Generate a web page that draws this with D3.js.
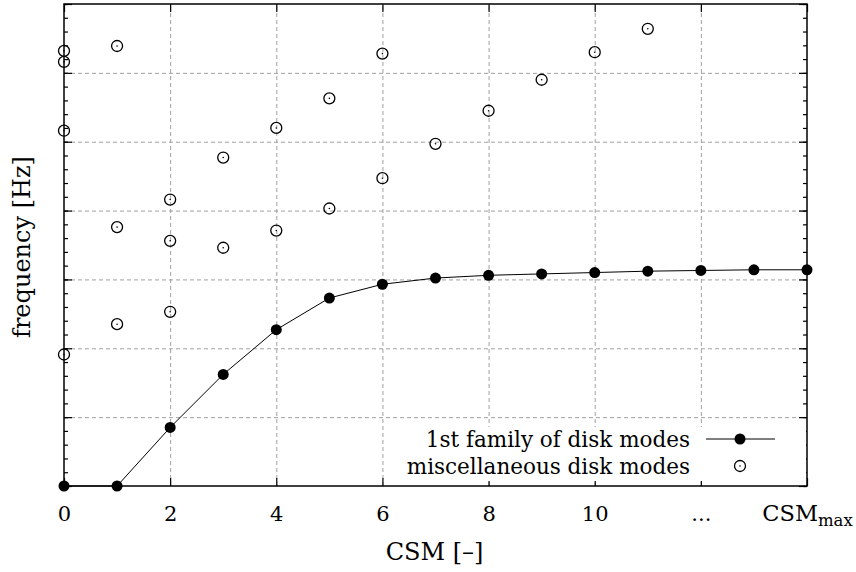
<!DOCTYPE html>
<html>
<head>
<meta charset="utf-8">
<script src="https://cdn.jsdelivr.net/npm/d3@7"></script>
<style>
    body { margin: 0; background: #fff; }
    svg { display: block; }
    text { font-family: "DejaVu Serif", serif; fill: #000; }
    .grid line { stroke: #a0a0a0; stroke-dasharray: 4,3; stroke-width: 1; }
    .ticks path { display: none; }
    .ticks line { stroke: #000; stroke-width: 1.2; }
</style>
</head>
<body>
<svg id="plot"></svg>
<script>
'use strict';

const plotWidth = 856;
const plotHeight = 572;
const margin = {top: 4, right: 49, bottom: 86, left: 64};

// CSM index for the first mode family
const csm = [0, 1, 2, 3, 4, 5, 6, 7, 8, 9, 10, 11, 12, 13, 14];
const familyFreq = [0, 0, 0.85, 1.62, 2.27, 2.73, 2.93, 3.02, 3.06, 3.08, 3.10, 3.12, 3.13, 3.14, 3.14];

// miscellaneous modes
const miscCsm = [0, 0, 0, 0, 1, 1, 1, 2, 2, 2, 3, 3, 4, 4, 5, 5, 6, 6, 7, 8, 9, 10, 11];
const miscFreq = [6.32, 6.16, 5.16, 1.91, 6.39, 3.76, 2.35, 4.16, 3.56, 2.53, 4.77, 3.46, 5.20, 3.71, 5.63, 4.03, 6.28, 4.47, 4.97, 5.45, 5.90, 6.30, 6.64];

const xTicks = [0, 2, 4, 6, 8, 10, 12, 14];
const xTickLabels = ['0', '2', '4', '6', '8', '10', '...', 'CSM'];
const yMajor = [0, 1, 2, 3, 4, 5, 6, 7];
const yMinor = d3.range(0, 36).map(i => i / 5);

const svg = d3.select('#plot')
    .attr('width', plotWidth)
    .attr('height', plotHeight);

const innerW = plotWidth - margin.left - margin.right;
const innerH = plotHeight - margin.top - margin.bottom;

const x = d3.scaleLinear().domain([0, 14]).range([margin.left, margin.left + innerW]);
const y = d3.scaleLinear().domain([0, 7]).range([margin.top + innerH, margin.top]);

// grid
svg.append('g')
    .attr('class', 'grid')
    .attr('transform', `translate(0, ${margin.top + innerH})`)
    .call(d3.axisBottom(x).tickValues(xTicks.slice(1, -1)).tickSize(-innerH).tickFormat(''))
    .call(g => g.select('.domain').remove());

svg.append('g')
    .attr('class', 'grid')
    .attr('transform', `translate(${margin.left}, 0)`)
    .call(d3.axisLeft(y).tickValues(yMajor.slice(1, -1)).tickSize(-innerW).tickFormat(''))
    .call(g => g.select('.domain').remove());

// ticks, all pointing inward
svg.append('g')
    .attr('class', 'ticks')
    .attr('id', 'x-axis')
    .attr('transform', `translate(0, ${margin.top + innerH})`)
    .call(d3.axisBottom(x).tickValues(xTicks).tickSizeInner(-8).tickSizeOuter(0).tickPadding(20)
        .tickFormat((d, i) => xTickLabels[i]))
    .call(g => g.selectAll('text').style('font-size', '21px'));

svg.append('g')
    .attr('class', 'ticks')
    .attr('transform', `translate(0, ${margin.top})`)
    .call(d3.axisTop(x).tickValues(xTicks).tickSizeInner(-8).tickSizeOuter(0).tickFormat(''));

[[d3.axisLeft, margin.left], [d3.axisRight, margin.left + innerW]].forEach(([axis, pos]) => {
    svg.append('g')
        .attr('class', 'ticks')
        .attr('transform', `translate(${pos}, 0)`)
        .call(axis(y).tickValues(yMinor).tickSizeInner(-4).tickSizeOuter(0).tickFormat(''));
    svg.append('g')
        .attr('class', 'ticks')
        .attr('transform', `translate(${pos}, 0)`)
        .call(axis(y).tickValues(yMajor).tickSizeInner(-8).tickSizeOuter(0).tickFormat(''));
});

// CSM_max label with subscript
svg.select('#x-axis').selectAll('.tick text')
    .filter((d, i) => i === xTickLabels.length - 1)
    .text(null)
    .call(t => {
        t.append('tspan').style('font-size', '22.5px').text(xTickLabels[xTickLabels.length - 1]);
        t.append('tspan').attr('dy', '0.3em').style('font-size', '16.5px').text('max');
    });

// frame
svg.append('rect')
    .attr('x', margin.left)
    .attr('y', margin.top)
    .attr('width', innerW)
    .attr('height', innerH)
    .attr('fill', 'none')
    .attr('stroke', '#000')
    .attr('stroke-width', 1.5);

// axis titles
svg.append('text')
    .attr('x', x(7) - 1)
    .attr('y', 560)
    .attr('text-anchor', 'middle')
    .style('font-size', '24px')
    .text('CSM [–]');

svg.append('text')
    .attr('transform', `translate(30, ${y(3.5) + 2}) rotate(-90)`)
    .attr('text-anchor', 'middle')
    .style('font-size', '24px')
    .text('frequency [Hz]');

// legend box (opaque)
svg.append('rect')
    .attr('x', 400)
    .attr('y', 427)
    .attr('width', margin.left + innerW - 401)
    .attr('height', 54)
    .attr('fill', '#fff');

// first family
const line = d3.line()
    .x((d, i) => x(csm[i]))
    .y(d => y(d));

svg.append('path')
    .datum(familyFreq)
    .attr('d', line)
    .attr('fill', 'none')
    .attr('stroke', '#000')
    .attr('stroke-width', 1);

svg.append('g')
    .selectAll('circle')
    .data(familyFreq)
    .join('circle')
    .attr('cx', (d, i) => x(csm[i]))
    .attr('cy', d => y(d))
    .attr('r', 5.5)
    .attr('fill', '#000');

// miscellaneous modes
const misc = svg.append('g')
    .selectAll('g')
    .data(miscFreq)
    .join('g')
    .attr('transform', (d, i) => `translate(${x(miscCsm[i])}, ${y(d)})`);

misc.append('circle').attr('r', 5.5).attr('fill', 'none').attr('stroke', '#000').attr('stroke-width', 1.3);
misc.append('circle').attr('r', 0.8).attr('fill', '#000');

// legend
const legend = svg.append('g');
legend.append('text').attr('x', 690).attr('y', 439).attr('dy', '0.35em').attr('text-anchor', 'end')
    .style('font-size', '21.5px').text('1st family of disk modes');
legend.append('text').attr('x', 690).attr('y', 466).attr('dy', '0.35em').attr('text-anchor', 'end')
    .style('font-size', '21.5px').text('miscellaneous disk modes');
legend.append('line').attr('x1', 706).attr('x2', 775).attr('y1', 439).attr('y2', 439).attr('stroke', '#000');
legend.append('circle').attr('cx', 740).attr('cy', 439).attr('r', 5.5).attr('fill', '#000');
legend.append('circle').attr('cx', 740).attr('cy', 466).attr('r', 5.5).attr('fill', 'none').attr('stroke', '#000').attr('stroke-width', 1.3);
legend.append('circle').attr('cx', 740).attr('cy', 466).attr('r', 0.8).attr('fill', '#000');
</script>
</body>
</html>
